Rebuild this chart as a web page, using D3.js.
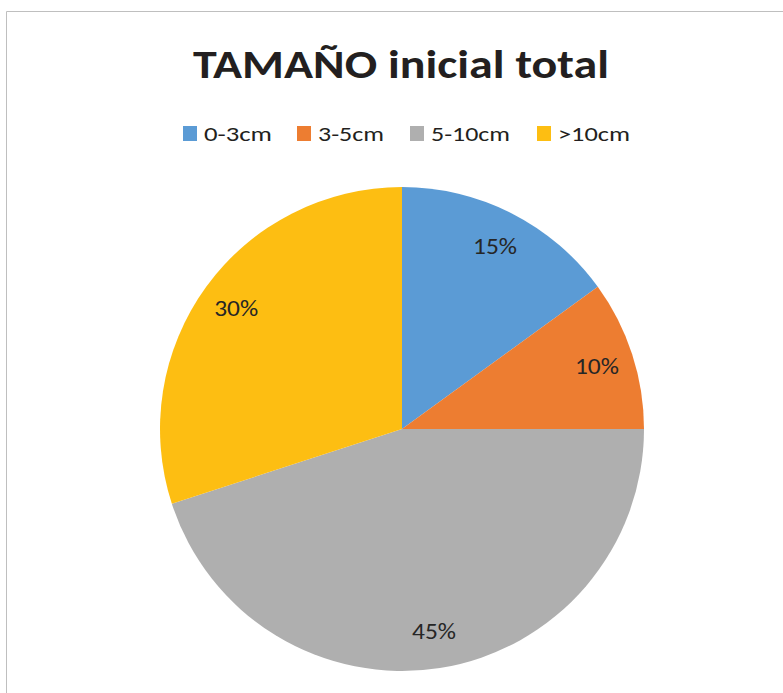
<!DOCTYPE html>
<html>
<head>
<meta charset="utf-8">
<script src="https://cdn.jsdelivr.net/npm/d3@7"></script>
<style>
  html, body { margin: 0; padding: 0; background: #fff; }
  svg { display: block; }
</style>
</head>
<body>
<svg class="chart_svg" width="783" height="693"></svg>
<script>
/* Data */
let categories = ["0-3cm", "3-5cm", "5-10cm", ">10cm"];
let values = [15, 10, 45, 30];
let labels = ["15%", "10%", "45%", "30%"];
let colors = ["#5b9bd5", "#ed7d31", "#afafaf", "#fdbe12"];

let svg = d3.select("svg.chart_svg");
let width = +svg.attr("width");
let height = +svg.attr("height");
let font = "Carlito, Lato, 'Open Sans', sans-serif";

// chart area frame (only left and top edges show)
svg.append("path")
    .attr("d", "M6.5," + height + "V11.5H" + width)
    .attr("fill", "none")
    .attr("stroke", "#bfbfbf")
    .attr("stroke-width", 1);

// title, stretched to the width of the original Calibri text
svg.append("text")
    .attr("x", 193)
    .attr("y", 78)
    .attr("textLength", 416)
    .attr("lengthAdjust", "spacingAndGlyphs")
    .attr("font-family", font)
    .attr("font-weight", "bold")
    .attr("font-size", 41)
    .attr("fill", "#231f20")
    .text("TAMAÑO inicial total");

/* Legend */
let legendX = [183, 297, 410, 537];
let legendTextW = [68, 66, 79, 72];
let legend = svg.append("g").attr("transform", "translate(0,126)");
let items = legend.selectAll("g")
    .data(categories)
    .enter()
    .append("g")
    .attr("transform", function (d, i) { return "translate(" + legendX[i] + ",0)"; });

items.append("rect")
    .attr("width", 14)
    .attr("height", 15)
    .attr("fill", function (d, i) { return colors[i]; });

items.append("text")
    .attr("x", 21)
    .attr("y", 15)
    .attr("textLength", function (d, i) { return legendTextW[i]; })
    .attr("lengthAdjust", "spacingAndGlyphs")
    .attr("font-family", font)
    .attr("font-size", 20)
    .attr("fill", "#231f20")
    .text(function (d) { return d; });

/* Pie */
let cx = 402, cy = 429, radius = 242;

let pie = d3.pie().sort(null).value(function (d) { return d; });
let arc = d3.arc().innerRadius(0).outerRadius(radius);
let labelArc = d3.arc().innerRadius(205).outerRadius(205);

let g = svg.append("g").attr("transform", "translate(" + cx + "," + cy + ")");
let slices = pie(values);

g.selectAll("path.slice")
    .data(slices)
    .enter()
    .append("path")
    .attr("class", "slice")
    .attr("d", arc)
    .attr("fill", function (d, i) { return colors[i]; });

g.selectAll("text.lbl")
    .data(slices)
    .enter()
    .append("text")
    .attr("class", "lbl")
    .attr("transform", function (d) { return "translate(" + labelArc.centroid(d) + ")"; })
    .attr("dy", "0.36em")
    .attr("text-anchor", "middle")
    .attr("textLength", 44)
    .attr("lengthAdjust", "spacingAndGlyphs")
    .attr("font-family", font)
    .attr("font-size", 22)
    .attr("fill", "#262626")
    .text(function (d, i) { return labels[i]; });
</script>
</body>
</html>
